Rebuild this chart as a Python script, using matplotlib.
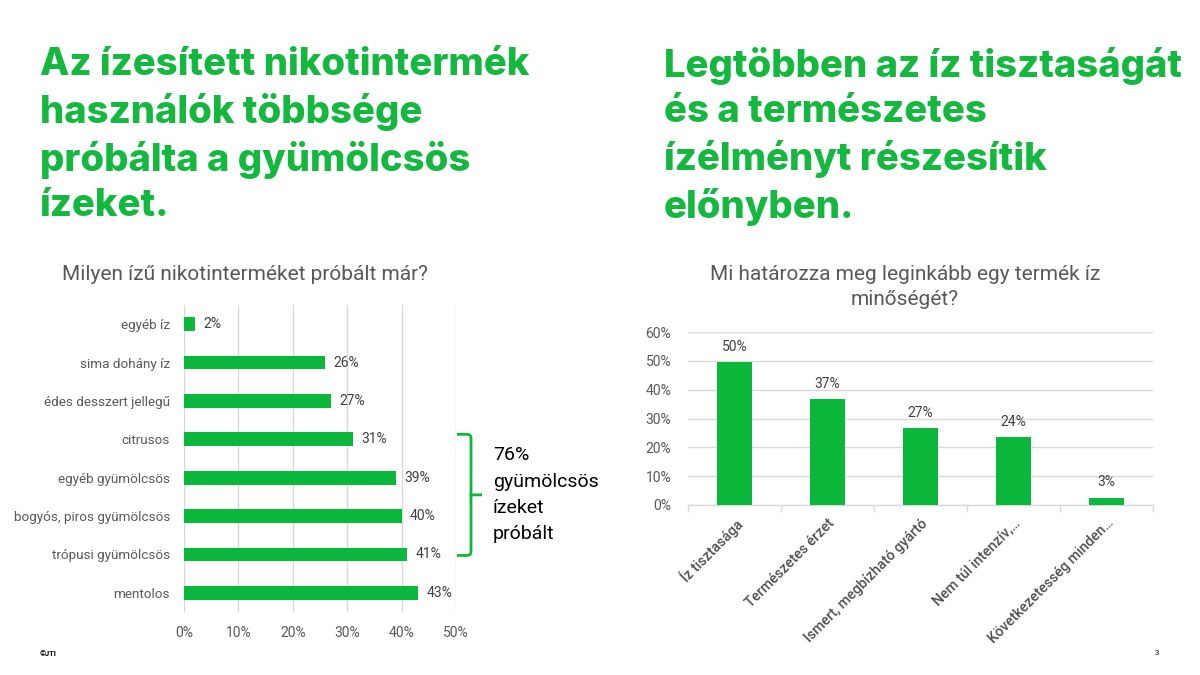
import numpy as np
import matplotlib.pyplot as plt
from matplotlib.path import Path
from matplotlib.patches import PathPatch

GREEN = '#0BB83B'
TITLE_GREEN = '#14B83E'
GRAY = '#595959'
DARK = '#404040'
GRID = '#D9D9D9'

plt.rcParams['font.family'] = ['Roboto', 'DejaVu Sans']

# left chart data
flavours = ['egyéb íz', 'sima dohány íz', 'édes desszert jellegű', 'citrusos',
            'egyéb gyümölcsös', 'bogyós, piros gyümölcsös', 'trópusi gyümölcsös', 'mentolos']
flavour_pct = [2, 26, 27, 31, 39, 40, 41, 43]
fruit_first = 'citrusos'
fruit_last = 'trópusi gyümölcsös'
fruit_total = 76

# right chart data
quality = ['Íz tisztasága', 'Természetes érzet', 'Ismert, megbízható gyártó',
           'Nem túl intenzív,…', 'Következetesség minden…']
quality_pct = [49.5, 36.6, 26.6, 23.6, 2.6]

W, H = 1200, 675
fig = plt.figure(figsize=(12, 6.75), dpi=100)

def fx(px):
    return px / W

def fy(py):
    return 1 - py / H

# headlines
head = dict(ha='left', va='top', fontsize=27.5, fontweight=800, color=TITLE_GREEN,
            linespacing=1.33, family=['Inter', 'DejaVu Sans'])
fig.text(fx(40), fy(47), 'Az ízesített nikotintermék\nhasználók többsége\npróbálta a gyümölcsös\nízeket.', **head)
fig.text(fx(664), fy(47), 'Legtöbben az íz tisztaságát\nés a természetes\nízélményt részesítik\nelőnyben.', **head)

# ---- left: horizontal bars
ax1 = fig.add_axes([fx(184), fy(612), fx(456) - fx(184), fy(305) - fy(612)])
y = np.arange(len(flavours))
ax1.barh(y, flavour_pct, height=0.36, color=GREEN, zorder=3)
ax1.set_ylim(len(flavours) - 0.5, -0.5)
ax1.set_xlim(0, 50)
ax1.set_xticks(np.arange(0, 51, 10))
ax1.set_xticklabels([f'{t}%' for t in range(0, 51, 10)])
ax1.set_yticks(y)
ax1.set_yticklabels(flavours)
ax1.grid(axis='x', color=GRID, lw=1, zorder=0)
for s in ax1.spines.values():
    s.set_visible(False)
ax1.tick_params(axis='both', length=0, labelcolor=GRAY)
ax1.tick_params(axis='y', pad=10, labelsize=9.7)
ax1.tick_params(axis='x', pad=10, labelsize=10)
for i, v in enumerate(flavour_pct):
    ax1.annotate(f'{v}%', (v, i), xytext=(6, 0), textcoords='offset points',
                 va='center', ha='left', fontsize=10, color=DARK)

fig.text(fx(62), fy(275), 'Milyen ízű nikotinterméket próbált már?',
         ha='left', va='center', fontsize=15, color=GRAY)

# bracket around fruity flavours
pxx = 50 / 272.0      # % per pixel
pxy = 1 / 38.3        # category per pixel
y0 = flavours.index(fruit_first) - 5 * pxy
y1 = flavours.index(fruit_last) + 1 * pxy
ym = (y0 + y1) / 2
xl = 50 + 1 * pxx
xv = 50 + 15 * pxx
xt = 50 + 26 * pxx
r = 4
verts = [(xl, y0), (xv - r * pxx, y0), (xv, y0), (xv, y0 + r * pxy),
         (xv, ym), (xt, ym), (xv, ym), (xv, y1 - r * pxy),
         (xv, y1), (xv - r * pxx, y1), (xl, y1)]
codes = [Path.MOVETO, Path.LINETO, Path.CURVE3, Path.CURVE3,
         Path.LINETO, Path.LINETO, Path.MOVETO, Path.LINETO,
         Path.CURVE3, Path.CURVE3, Path.LINETO]
ax1.add_patch(PathPatch(Path(verts, codes), fill=False, edgecolor=GREEN, lw=2,
                        clip_on=False, zorder=5))
ax1.text(50 + 37 * pxx, ym, f'{fruit_total}%\ngyümölcsös\nízeket\npróbált',
         ha='left', va='center', fontsize=14, color='black', linespacing=1.6)

# ---- right: vertical bars
ax2 = fig.add_axes([fx(688), fy(505), fx(1153) - fx(688), fy(332) - fy(505)])
x = np.arange(len(quality))
ax2.bar(x, quality_pct, width=0.375, color=GREEN, zorder=3)
ax2.set_xlim(-0.5, len(quality) - 0.5)
ax2.set_ylim(0, 60)
ax2.set_yticks(np.arange(0, 61, 10))
ax2.set_yticklabels([f'{t}%' for t in range(0, 61, 10)])
ax2.grid(axis='y', color=GRID, lw=1, zorder=0)
for k in ['top', 'right', 'left']:
    ax2.spines[k].set_visible(False)
ax2.spines['bottom'].set_color(GRID)
ax2.spines['bottom'].set_linewidth(1)
ax2.set_xticks(x)
ax2.set_xticklabels(quality, rotation=45, ha='right', rotation_mode='anchor')
ax2.set_xticks(np.arange(-0.5, len(quality), 1), minor=True)
ax2.tick_params(axis='x', which='major', length=0, labelsize=10.3, labelcolor='#505050', pad=8)
ax2.tick_params(axis='x', which='minor', length=5, color=GRID, width=1)
ax2.tick_params(axis='y', length=0, labelsize=10, labelcolor=GRAY, pad=12)
for lbl in ax2.get_xticklabels():
    lbl.set_fontweight('medium')
for i, v in enumerate(quality_pct):
    ax2.annotate(f'{v:.0f}%', (i, v), xytext=(0, 6), textcoords='offset points',
                 ha='center', va='bottom', fontsize=10, color=DARK)

fig.text(fx(905), fy(287), 'Mi határozza meg leginkább egy termék íz\nminőségét?',
         ha='center', va='center', fontsize=15, color=GRAY, linespacing=1.45)

# footer
fig.text(fx(40), fy(653), '©JTI', ha='left', va='center', fontsize=5.5, fontweight='bold', color='black')
fig.text(fx(1155), fy(653), '3', ha='left', va='center', fontsize=5.5, color='black')

fig.savefig('out.png', dpi=100)
